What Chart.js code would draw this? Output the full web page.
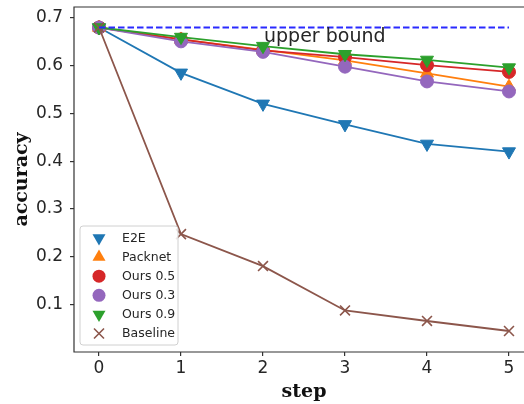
<!DOCTYPE html>
<html>
<head>
<meta charset="utf-8">
<script src="https://cdn.jsdelivr.net/npm/chart.js@4/dist/chart.umd.min.js"></script>
<style>
  html, body { margin: 0; padding: 0; background: #fff; overflow: hidden; }
  #wrap { width: 524px; height: 404px; }
</style>
</head>
<body>
<div id="wrap"><canvas id="accChart" width="524" height="404"></canvas></div>
<script>
// values
const steps = [0, 1, 2, 3, 4, 5];
const e2e = [0.68, 0.585, 0.520, 0.477, 0.436, 0.420];
const packnet = [0.68, 0.655, 0.633, 0.611, 0.584, 0.556];
const ours05 = [0.68, 0.655, 0.632, 0.618, 0.601, 0.587];
const ours03 = [0.68, 0.651, 0.629, 0.598, 0.567, 0.546];
const ours09 = [0.68, 0.660, 0.641, 0.624, 0.612, 0.596];
const baseline = [0.68, 0.247, 0.180, 0.087, 0.065, 0.044];
const upperBound = 0.68;
const boundLabel = 'upper bound';
const yTicks = [0.1, 0.2, 0.3, 0.4, 0.5, 0.6, 0.7];
const xTicks = [0, 1, 2, 3, 4, 5];

const toPoints = vals => vals.map((v, i) => ({ x: steps[i], y: v }));

function series(label, vals, color, style, order) {
  let pointStyle = 'circle', rotation = 0, radius = 6.5;
  if (style === 'tdown') { pointStyle = 'triangle'; rotation = 180; radius = 7.5; }
  if (style === 'tup') { pointStyle = 'triangle'; radius = 7.5; }
  if (style === 'x') { pointStyle = 'crossRot'; radius = 7; }
  return {
    label: label,
    data: toPoints(vals),
    borderColor: color,
    backgroundColor: color,
    pointBackgroundColor: color,
    pointBorderColor: color,
    borderWidth: 1.8,
    pointBorderWidth: style === 'x' ? 1.6 : 1,
    pointStyle: pointStyle,
    pointRotation: rotation,
    pointRadius: radius,
    tension: 0,
    order: order,
    mark: style
  };
}

const datasets = [
  series('E2E', e2e, '#1f77b4', 'tdown', 7),
  series('Packnet', packnet, '#ff7f0e', 'tup', 6),
  series('Ours 0.5', ours05, '#d62728', 'circle', 5),
  series('Ours 0.3', ours03, '#9467bd', 'circle', 4),
  series('Ours 0.9', ours09, '#2ca02c', 'tdown', 3),
  series('Baseline', baseline, '#8c564b', 'x', 2),
  {
    label: boundLabel,
    data: [{ x: steps[0], y: upperBound }, { x: steps[steps.length - 1], y: upperBound }],
    borderColor: '#2a2aff',
    borderWidth: 2,
    borderDash: [6.5, 3],
    pointRadius: 0,
    order: 1,
    skipLegend: true
  }
];

function drawMark(ctx, style, cx, cy, color) {
  ctx.fillStyle = color;
  ctx.strokeStyle = color;
  ctx.lineWidth = 1;
  ctx.beginPath();
  if (style === 'circle') {
    ctx.arc(cx, cy, 6.5, 0, Math.PI * 2);
    ctx.fill();
  } else if (style === 'tdown' || style === 'tup') {
    const r = 7.5, s = style === 'tdown' ? 1 : -1;
    ctx.moveTo(cx - r * 0.866, cy - s * r / 2);
    ctx.lineTo(cx + r * 0.866, cy - s * r / 2);
    ctx.lineTo(cx, cy + s * r);
    ctx.closePath();
    ctx.fill();
  } else {
    const d = 5;
    ctx.lineWidth = 1.6;
    ctx.moveTo(cx - d, cy - d); ctx.lineTo(cx + d, cy + d);
    ctx.moveTo(cx + d, cy - d); ctx.lineTo(cx - d, cy + d);
    ctx.stroke();
  }
}

const extras = {
  id: 'extras',
  afterDatasetsDraw(chart) {
    const { ctx, chartArea: a, scales: { x, y } } = chart;
    ctx.save();
    // frame (right spine sits just past the picture edge)
    ctx.strokeStyle = '#333';
    ctx.lineWidth = 1.2;
    ctx.beginPath();
    ctx.moveTo(a.right + 20, a.top);
    ctx.lineTo(a.left, a.top);
    ctx.lineTo(a.left, a.bottom);
    ctx.lineTo(a.right + 20, a.bottom);
    ctx.stroke();

    // upper bound text
    ctx.fillStyle = '#262626';
    ctx.font = '19px "DejaVu Sans"';
    ctx.textAlign = 'left';
    ctx.textBaseline = 'alphabetic';
    ctx.fillText(boundLabel, x.getPixelForValue(2) + 1, y.getPixelForValue(0.649));

    // legend box
    const bx = 80, by = 226, bw = 98, bh = 119, rr = 3;
    ctx.beginPath();
    ctx.moveTo(bx + rr, by);
    ctx.arcTo(bx + bw, by, bx + bw, by + bh, rr);
    ctx.arcTo(bx + bw, by + bh, bx, by + bh, rr);
    ctx.arcTo(bx, by + bh, bx, by, rr);
    ctx.arcTo(bx, by, bx + bw, by, rr);
    ctx.closePath();
    ctx.fillStyle = 'rgba(255,255,255,0.85)';
    ctx.fill();
    ctx.strokeStyle = '#d0d0d0';
    ctx.lineWidth = 1;
    ctx.stroke();

    ctx.font = '12.5px "DejaVu Sans"';
    ctx.textBaseline = 'middle';
    chart.data.datasets.filter(d => !d.skipLegend).forEach((d, i) => {
      const cy = 238 + i * 19.1;
      drawMark(ctx, d.mark, 99, cy, d.borderColor);
      ctx.fillStyle = '#262626';
      ctx.fillText(d.label, 122, cy + 0.5);
    });
    ctx.restore();
  },
  afterDraw(chart) {
    const { ctx, chartArea: a } = chart;
    ctx.save();
    ctx.fillStyle = '#111';
    ctx.font = 'bold 19px "DejaVu Serif"';
    ctx.textAlign = 'center';
    ctx.textBaseline = 'alphabetic';
    ctx.fillText('step', 304, 397);
    ctx.translate(27, (a.top + a.bottom) / 2);
    ctx.rotate(-Math.PI / 2);
    ctx.fillText('accuracy', 0, 0);
    ctx.restore();
  }
};

const tickFont = { family: 'DejaVu Sans', size: 17 };

new Chart(document.getElementById('accChart'), {
  type: 'line',
  data: { datasets: datasets },
  options: {
    responsive: false,
    animation: false,
    devicePixelRatio: 1,
    layout: { autoPadding: false, padding: { top: 7, right: 0, left: 0, bottom: 0 } },
    plugins: { legend: { display: false }, tooltip: { enabled: false } },
    scales: {
      x: {
        type: 'linear',
        min: -0.305,
        max: 5.183,
        afterBuildTicks: s => { s.ticks = xTicks.map(v => ({ value: v })); },
        afterFit: s => { s.height = 52; s.paddingLeft = 0; s.paddingRight = 0; },
        grid: { drawOnChartArea: false, drawTicks: true, tickLength: 4, color: '#333', lineWidth: 1.2 },
        border: { display: false },
        ticks: { font: tickFont, color: '#262626', padding: 2, maxRotation: 0,
          callback: v => String(v) }
      },
      y: {
        min: 0,
        max: 0.723,
        afterBuildTicks: s => { s.ticks = yTicks.map(v => ({ value: v })); },
        afterFit: s => { s.width = 74; s.paddingTop = 0; s.paddingBottom = 0; },
        grid: { drawOnChartArea: false, drawTicks: true, tickLength: 4, color: '#333', lineWidth: 1.2 },
        border: { display: false },
        ticks: { font: tickFont, color: '#262626', padding: 7,
          callback: v => v.toFixed(1) }
      }
    }
  },
  plugins: [extras]
});
</script>
</body>
</html>
